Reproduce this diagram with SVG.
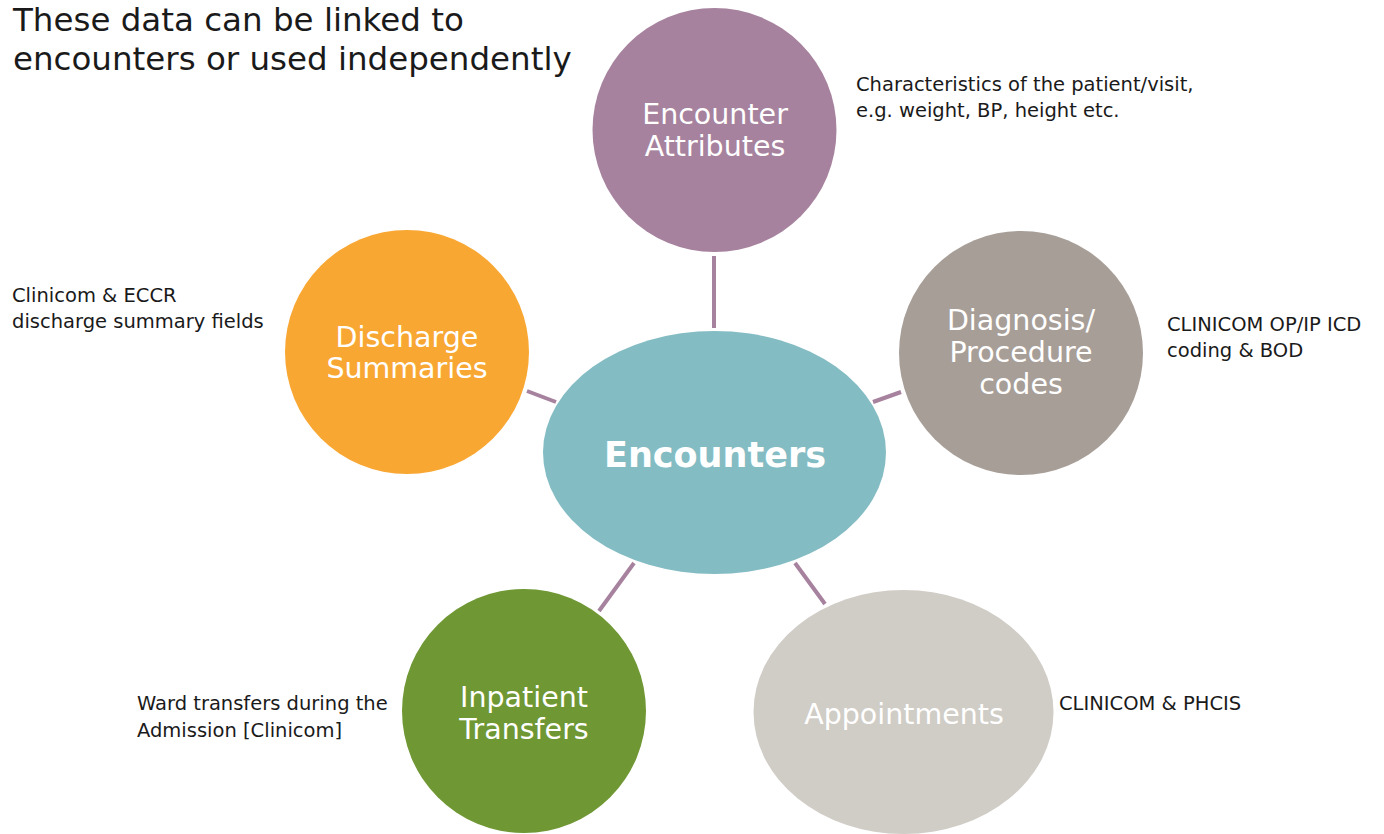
<svg xmlns="http://www.w3.org/2000/svg" width="1384" height="834" viewBox="0 0 1384 834">
<style>
text{font-family:"DejaVu Sans","Liberation Sans",sans-serif}
.title{font-size:32.5px;fill:#1a1a1a}
.node{font-size:28.5px;fill:#ffffff;text-anchor:middle}
.note{font-size:19.5px;fill:#1a1a1a}
.conn{stroke:#a6829e;stroke-width:4;fill:none}
</style>
<rect width="1384" height="834" fill="#ffffff"/>
<g id="title">
<text class="title" x="13" y="31">These data can be linked to</text>
<text class="title" x="13" y="70">encounters or used independently</text>
</g>
<g id="connectors">
<line class="conn" x1="714" y1="256" x2="714" y2="328"/>
<line class="conn" x1="527" y1="391" x2="556" y2="402"/>
<line class="conn" x1="873" y1="402" x2="901" y2="392"/>
<line class="conn" x1="634" y1="563" x2="599" y2="611"/>
<line class="conn" x1="795" y1="563" x2="825" y2="604"/>
</g>
<g id="encounters">
<ellipse cx="714.5" cy="452.5" rx="171.5" ry="121.5" fill="#84bcc4"/>
<text x="715" y="467" style="font-size:35px;font-weight:bold;fill:#fff;text-anchor:middle">Encounters</text>
</g>
<g id="encounter-attributes">
<circle cx="714.5" cy="130" r="122" fill="#a6829e"/>
<text class="node" x="715" y="124">Encounter</text>
<text class="node" x="715" y="156">Attributes</text>
<text class="note" x="856" y="91">Characteristics of the patient/visit,</text>
<text class="note" x="856" y="117">e.g. weight, BP, height etc.</text>
</g>
<g id="discharge-summaries">
<circle cx="407" cy="352" r="122" fill="#f9a733"/>
<text class="node" x="407" y="347">Discharge</text>
<text class="node" x="407" y="378">Summaries</text>
<text class="note" x="12" y="302">Clinicom &amp; ECCR</text>
<text class="note" x="12" y="328">discharge summary fields</text>
</g>
<g id="diagnosis-procedure-codes">
<circle cx="1021" cy="353" r="122" fill="#a79e98"/>
<text class="node" x="1021" y="330">Diagnosis/</text>
<text class="node" x="1021" y="362">Procedure</text>
<text class="node" x="1021" y="394">codes</text>
<text class="note" x="1167" y="331">CLINICOM OP/IP ICD</text>
<text class="note" x="1167" y="357">coding &amp; BOD</text>
</g>
<g id="inpatient-transfers">
<circle cx="524" cy="711" r="122" fill="#6f9733"/>
<text class="node" x="524" y="707">Inpatient</text>
<text class="node" x="524" y="739">Transfers</text>
<text class="note" x="137" y="710">Ward transfers during the</text>
<text class="note" x="137" y="737">Admission [Clinicom]</text>
</g>
<g id="appointments">
<ellipse cx="903.5" cy="712" rx="150" ry="122" fill="#d0ccc6"/>
<text class="node" x="904" y="724">Appointments</text>
<text class="note" x="1059" y="710">CLINICOM &amp; PHCIS</text>
</g>
</svg>
